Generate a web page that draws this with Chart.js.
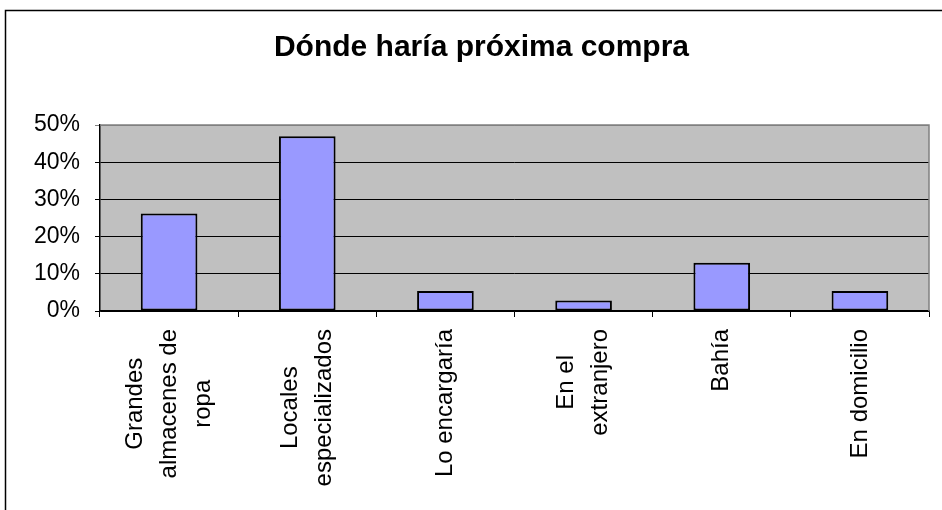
<!DOCTYPE html>
<html lang="es">
<head>
  <meta charset="UTF-8">
  <title>Dónde haría próxima compra</title>
  <script src="https://cdn.jsdelivr.net/npm/chart.js"></script>
  <style>
    html, body { margin: 0; padding: 0; background: #fff; }
    #grafico { display: block; }
  </style>
</head>
<body>
  <canvas id="grafico" width="942" height="510"></canvas>

  <script>
    // datos
    const categorias = [
      ['Grandes', 'almacenes de', 'ropa'],
      ['Locales', 'especializados'],
      ['Lo encargaría'],
      ['En el', 'extranjero'],
      ['Bahía'],
      ['En domicilio']
    ];
    const porcentajes = [26.2, 47.0, 5.4, 2.8, 13.0, 5.4];
    const ticksY = [0, 10, 20, 30, 40, 50];

    const fuente = '"Liberation Sans", Arial, sans-serif';

    // fondo gris del área de trazado, borde exterior y etiquetas giradas
    const decoracion = {
      id: 'decoracion',
      beforeDraw(chart) {
        const { ctx, chartArea: a } = chart;
        ctx.save();
        ctx.fillStyle = '#ffffff';
        ctx.fillRect(0, 0, chart.width, chart.height);
        ctx.strokeStyle = '#000';
        ctx.lineWidth = 1.5;
        ctx.strokeRect(5.5, 10.5, 1200, 1200);
        ctx.fillStyle = '#C0C0C0';
        ctx.fillRect(a.left, a.top, a.right - a.left, a.bottom - a.top);
        ctx.restore();
      },
      afterDraw(chart) {
        const { ctx, chartArea: a } = chart;
        const x = chart.scales.x;
        ctx.save();
        // borde superior y derecho del área de trazado
        ctx.strokeStyle = '#808080';
        ctx.lineWidth = 1.5;
        ctx.beginPath();
        ctx.moveTo(a.left, a.top);
        ctx.lineTo(a.right, a.top);
        ctx.lineTo(a.right, a.bottom);
        ctx.stroke();

        ctx.font = '24px ' + fuente;
        ctx.fillStyle = '#000';
        ctx.textAlign = 'center';
        ctx.textBaseline = 'middle';
        const arriba = a.bottom + 18;
        const salto = 34;
        categorias.forEach((lineas, i) => {
          const px = x.getPixelForValue(i);
          const ancho = Math.max(...lineas.map(l => ctx.measureText(l).width));
          ctx.save();
          ctx.translate(px, arriba + ancho / 2);
          ctx.rotate(-Math.PI / 2);
          lineas.forEach((l, j) => {
            ctx.fillText(l, 0, (j - (lineas.length - 1) / 2) * salto);
          });
          ctx.restore();
        });
        ctx.restore();
      }
    };

    new Chart(document.getElementById('grafico'), {
      type: 'bar',
      data: {
        labels: categorias.map(c => c.join(' ')),
        datasets: [{
          data: porcentajes,
          backgroundColor: '#9999FF',
          borderColor: '#000',
          borderWidth: 2,
          borderSkipped: false,
          categoryPercentage: 1,
          barPercentage: 0.41
        }]
      },
      options: {
        responsive: false,
        animation: false,
        layout: { padding: { left: 34, right: 13, top: 0, bottom: 0 } },
        plugins: {
          legend: { display: false },
          tooltip: { enabled: false },
          title: {
            display: true,
            text: 'Dónde haría próxima compra',
            color: '#000',
            font: { family: fuente, size: 30, weight: 'bold' },
            padding: { top: 30, bottom: 59 }
          }
        },
        scales: {
          x: {
            offset: true,
            grid: {
              offset: true,
              drawOnChartArea: false,
              drawTicks: true,
              tickLength: 6,
              color: '#000'
            },
            border: { color: '#000', width: 1.5 },
            ticks: { display: false },
            afterFit(s) { s.height = 199; }
          },
          y: {
            min: 0,
            max: 50,
            afterBuildTicks(s) { s.ticks = ticksY.map(v => ({ value: v })); },
            grid: {
              color: ctx => ctx.tick && ctx.tick.value === 50 ? '#808080' : '#000',
              lineWidth: 1,
              tickLength: 5
            },
            border: { color: '#000', width: 1.5 },
            ticks: {
              color: '#000',
              padding: 15,
              font: { family: fuente, size: 23 },
              callback: v => v + '%'
            },
            afterFit(s) { s.width = 66; }
          }
        }
      },
      plugins: [decoracion]
    });
  </script>
</body>
</html>
